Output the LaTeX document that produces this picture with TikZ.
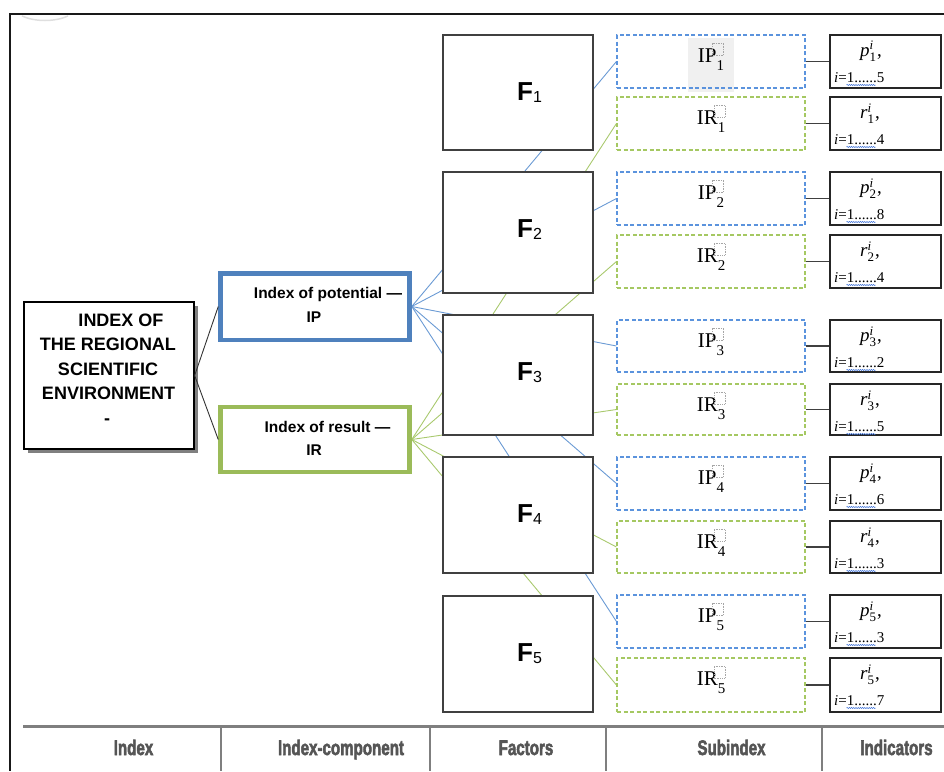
\documentclass[tikz,border=0pt]{standalone}
\usepackage{fontspec}
\setmainfont{Liberation Serif}
\setsansfont{Liberation Sans}
\newfontfamily\heavyfont{Liberation Sans}[BoldFeatures={FakeBold=3}]
\usetikzlibrary{shadows,decorations.pathmorphing}
\pgfdeclarelayer{bg}
\pgfsetlayers{bg,main}
\definecolor{ipblue}{HTML}{4F81BD}
\definecolor{iplight}{HTML}{6A9AD4}
\definecolor{ipdash}{HTML}{5B93DD}
\definecolor{irgreen}{HTML}{9BBB59}
\definecolor{irlight}{HTML}{A9C96E}
\definecolor{irdash}{HTML}{A5C862}
\definecolor{fgray}{HTML}{404040}
\definecolor{tgray}{HTML}{7F7F7F}
\definecolor{lgray}{HTML}{555555}
\definecolor{hlgray}{HTML}{F0F0F0}
\definecolor{squigblue}{HTML}{3A6FD8}
\newcommand{\subsp}[1]{\raisebox{-8pt}{\fontsize{15}{15}\selectfont #1}\hspace{12pt}}
\newcommand{\indsub}[2]{\textit{#1}\raisebox{6pt}{\rlap{\fontsize{13}{13}\selectfont\itshape i}}\raisebox{-5.5pt}{\fontsize{13}{13}\selectfont #2}\hspace{1pt},}
\begin{document}
\begin{tikzpicture}[x=1pt,y=-1pt,
  idxbox/.style={draw=black, line width=1.3pt, fill=white, inner sep=0pt, minimum width=170pt, minimum height=147pt,
    drop shadow={shadow xshift=4pt, shadow yshift=-4pt, fill=black!50, opacity=1}},
  idxtxt/.style={font=\fontsize{18}{18}\selectfont\sffamily\bfseries, anchor=base, inner sep=0pt},
  ipcomp/.style={draw=ipblue, line width=4.5pt, fill=white, inner sep=0pt, minimum width=189pt, minimum height=66.5pt},
  ircomp/.style={draw=irgreen, line width=4.5pt, fill=white, inner sep=0pt, minimum width=189pt, minimum height=65pt},
  comptxt/.style={font=\fontsize{15.5}{15.5}\selectfont\sffamily\bfseries, anchor=base, inner sep=0pt},
  fbox/.style={draw=fgray, line width=1.5pt, fill=white, inner sep=0pt, minimum width=150pt},
  ftxt/.style={font=\fontsize{26}{26}\selectfont\sffamily\bfseries, anchor=base west, inner sep=0pt},
  sipbox/.style={draw=ipdash, line width=1.1pt, dash pattern=on 4pt off 2.5pt, inner sep=0pt, minimum width=188pt},
  sirbox/.style={draw=irdash, line width=1.1pt, dash pattern=on 4pt off 2.5pt, inner sep=0pt, minimum width=188pt},
  subtxt/.style={font=\fontsize{21}{21}\selectfont, anchor=base, inner sep=0pt},
  phbox/.style={draw=gray!70, densely dotted, line width=0.7pt},
  indbox/.style={draw=black!85, line width=1.2pt, inner sep=0pt, minimum width=111pt},
  indtxt/.style={font=\fontsize{19}{19}\selectfont, anchor=base west, inner sep=0pt},
  indtxtb/.style={font=\fontsize{15}{15}\selectfont, anchor=base west, inner sep=0pt},
  ipfan/.style={draw=iplight, line width=0.9pt},
  irfan/.style={draw=irlight, line width=0.9pt},
  link/.style={draw=black!80, line width=0.9pt},
  indlink/.style={draw=black!75, line width=1.2pt},
  squig/.style={draw=squigblue, line width=0.5pt, decorate, decoration={snake, amplitude=0.6pt, segment length=2.2pt}},
  tabline/.style={draw=tgray, line width=3pt},
  tabsep/.style={draw=tgray, line width=2pt},
  tablab/.style={font=\fontsize{21}{21}\selectfont\heavyfont\bfseries, text=lgray, anchor=base, inner sep=0pt}
]
\useasboundingbox (0,0) rectangle (944,771);
% outer frame
\draw[line width=2pt, black!90] (944,14) -- (10,14) -- (10,771);
\draw[gray!25, line width=1.5pt] (22,16) .. controls (35,22) and (55,22) .. (68,16);

% index
\node[idxbox] (idx) at (109,375.5) {};
\node[idxtxt] (idxl1) at (121,326) {INDEX OF};
\node[idxtxt] (idxl2) at (108,350) {THE REGIONAL};
\node[idxtxt] (idxl3) at (108,375) {SCIENTIFIC};
\node[idxtxt] (idxl4) at (108.5,399) {ENVIRONMENT};
\node[idxtxt] (idxl5) at (107,424) {-};

% components
\node[ipcomp] (IP) at (315,306.5) {};
\node[comptxt] (IPl1) at (328,298) {Index of potential —};
\node[comptxt] (IPl2) at (314,322) {IP};
\node[ircomp] (IR) at (315,439.5) {};
\node[comptxt] (IRl1) at (327.5,432) {Index of result —};
\node[comptxt] (IRl2) at (314,455) {IR};

\draw[link] (idx.east) -- (IP.west);
\draw[link] (idx.east) -- (IR.west);

% factors
\foreach \k/\ya/\yb in {1/35/150, 2/172/293, 3/315/435, 4/457/573, 5/596/712} {
  \pgfmathsetmacro\yc{(\ya+\yb)/2}
  \pgfmathsetmacro\hh{\yb-\ya}
  \node[fbox, minimum height=\hh pt] (F\k) at (518,\yc) {};
  \node[ftxt] (Fl\k) at (517,\ya+65) {F\raisebox{-2pt}{\fontsize{16}{16}\selectfont\mdseries\k}};
}

% subindices and indicators
\begin{pgfonlayer}{bg}
  \fill[hlgray] (688,38) rectangle (734,92);
\end{pgfonlayer}
\foreach \k/\ya/\yb/\yd/\ye/\pn/\rn in {1/35/88/97/150/5/4, 2/172/225/235/288/8/4, 3/320/372/384/435/2/5, 4/457/510/521/573/6/3, 5/595/648/658/712/3/7} {
  \pgfmathsetmacro\yc{(\ya+\yb)/2}
  \pgfmathsetmacro\hh{\yb-\ya}
  \pgfmathsetmacro\yf{(\yd+\ye)/2}
  \pgfmathsetmacro\hg{\ye-\yd}
  \node[sipbox, minimum height=\hh pt] (sIP\k) at (711,\yc) {};
  \node[subtxt] (tIP\k) at (711,\ya+27) {IP\subsp{\k}};
  \draw[phbox] ([xshift=-11.5pt,yshift=7pt]tIP\k.base east) rectangle ++(11,-12);
  \node[sirbox, minimum height=\hg pt] (sIR\k) at (711,\yf) {};
  \node[subtxt] (tIR\k) at (711,\yd+27) {IR\subsp{\k}};
  \draw[phbox] ([xshift=-11.5pt,yshift=7pt]tIR\k.base east) rectangle ++(11,-12);
  \node[indbox, minimum height=\hh pt] (iP\k) at (885.5,\yc) {};
  \node[indtxt] (iPa\k) at (860,\ya+21) {\indsub{p}{\k}};
  \node[indtxtb] (iPb\k) at (834,\ya+47) {\textit{i}=1......\pn};
  \node[indbox, minimum height=\hg pt] (iR\k) at (885.5,\yf) {};
  \node[indtxt] (iRa\k) at (860,\yd+21) {\indsub{r}{\k}};
  \node[indtxtb] (iRb\k) at (834,\yd+47) {\textit{i}=1......\rn};
  \draw[indlink] (sIP\k.east) -- (iP\k.west);
  \draw[indlink] (sIR\k.east) -- (iR\k.west);
  \draw[squig] ([xshift=12.5pt,yshift=-3pt]iPb\k.base west) -- ++(29,0);
  \draw[squig] ([xshift=12.5pt,yshift=-3pt]iRb\k.base west) -- ++(29,0);
  \begin{pgfonlayer}{bg}
    \draw[ipfan] (IP.east) -- (sIP\k.west);
    \draw[irfan] (IR.east) -- (sIR\k.west);
  \end{pgfonlayer}
}

% bottom table
\draw[tabline] (23,726) -- (944,726);
\foreach \x in {221,430,606,822} \draw[tabsep] (\x,726) -- (\x,771);
\node[tablab] (c1) at (133.5,755) {\scalebox{0.72}[1]{Index}};
\node[tablab] (c2) at (341,755) {\scalebox{0.72}[1]{Index-component}};
\node[tablab] (c3) at (526,755) {\scalebox{0.72}[1]{Factors}};
\node[tablab] (c4) at (731.5,755) {\scalebox{0.72}[1]{Subindex}};
\node[tablab] (c5) at (896.5,755) {\scalebox{0.72}[1]{Indicators}};
\end{tikzpicture}
\end{document}
